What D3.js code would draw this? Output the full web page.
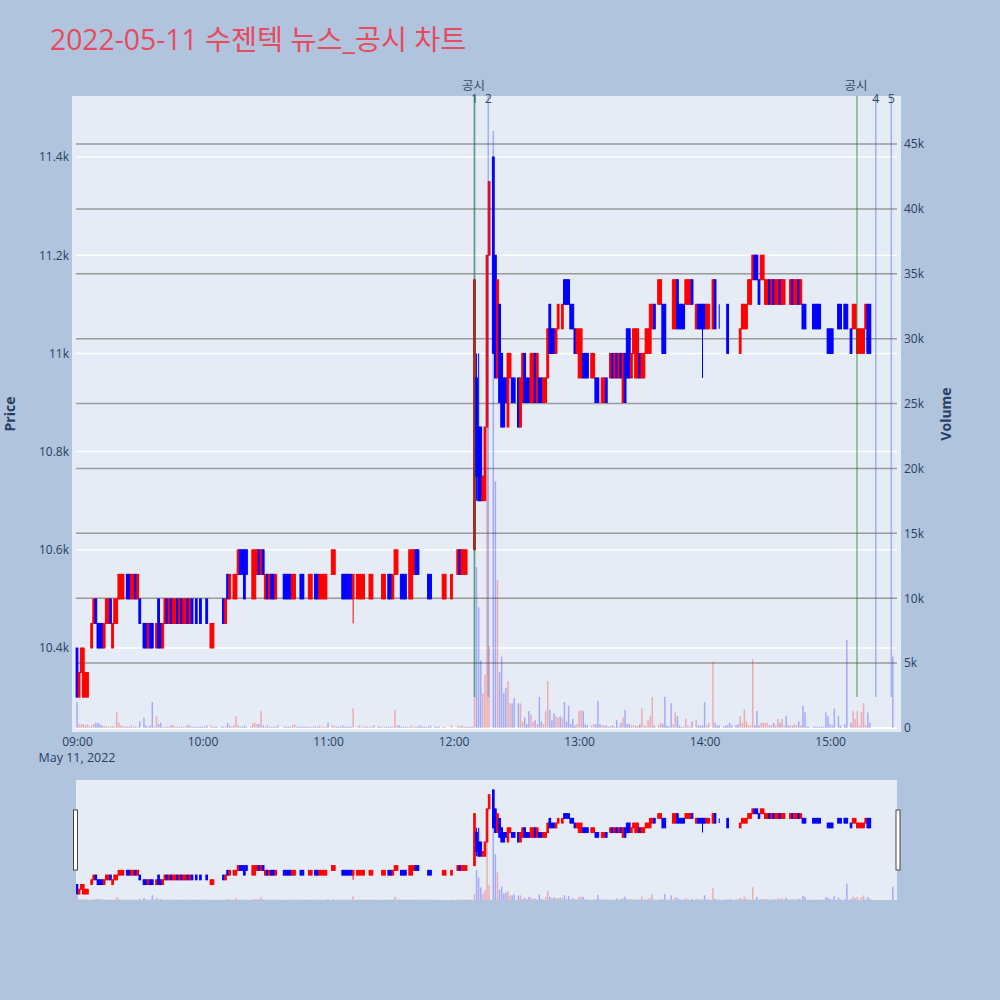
<!DOCTYPE html>
<html><head><meta charset="utf-8">
<script src="https://cdn.jsdelivr.net/npm/d3@7"></script>
<style>body{margin:0;background:#B0C4DE;} svg{display:block;font-family:"Open Sans","Noto Sans CJK KR",sans-serif;}</style>
</head><body><svg id="c" width="1000" height="1000"></svg>
<script>
const _ = null;
const chartTitle = "2022-05-11 수젠텍 뉴스_공시 차트";
// one entry per minute starting 09:00 (null = no trade)
const opens = [
10400,10300,10350,10300,10300,10300,10350,10400,10450,10500,
10450,10450,10450,10400,10450,10450,10500,10400,10450,10450,
10500,10500,10500,10450,10550,10550,10500,10500,10550,10500,
10500,_,10450,10450,10400,10450,10450,10350,10400,10500,
10450,10400,10450,10500,10450,10500,10450,10450,10500,10450,
10500,10450,10450,10500,10450,10500,10450,10500,10450,10500,
10450,10500,10500,_,10400,10400,10450,10450,_,10450,
10500,10450,10550,10500,10550,10500,10500,10550,10600,10600,
10600,10600,_,10550,10500,10500,10550,10600,10550,10600,
10500,10550,10500,10550,10550,10500,10550,_,_,10550,
10550,10550,10550,10500,10500,10500,10500,10550,10550,10500,
10500,10500,10500,10550,10550,10550,10500,10500,10500,10500,
10550,_,10550,10550,10550,10550,10550,10550,10550,10550,
10550,10550,10500,_,10500,10500,10500,10500,10500,10500,
10500,10500,10500,_,10500,10500,10500,10500,10500,10550,
10550,10500,10550,10550,10550,10550,10550,10550,10500,10500,
10500,10550,10600,10600,10500,10500,10500,10500,10550,10550,
_,10500,10500,10500,_,10500,10500,_,_,10500,
_,_,10550,10600,10550,10550,10550,10550,10550,10550,
10600,10950,10850,10850,10700,10700,10850,11200,_,11400,
11200,10950,11100,11000,10950,10950,10850,10950,10950,10950,
_,10950,10850,10900,11000,10950,10950,10900,10900,11000,
10900,10950,10950,10900,10900,10950,11100,11050,11050,11000,
11050,11100,11050,11150,11150,11150,11100,11100,11050,11000,
10950,10950,11000,11000,11000,_,10950,10950,10950,10950,
10900,10900,10900,10950,10950,10950,11000,10950,11000,10950,
11000,10900,11000,11050,11050,10950,11000,10950,10950,11000,
10950,10950,11000,11000,11000,11050,11100,_,11100,11100,
11100,11100,11000,11000,11000,11050,11050,11150,11100,11100,
11100,11100,11100,11100,11150,_,11050,11100,11100,11100,
11100,11050,11050,_,11050,11150,11050,11050,_,11050,
11050,11100,11000,11000,_,11050,11050,11000,11050,11050,
11050,11100,11100,11150,11200,11200,11150,11150,11150,11100,
11100,11150,11100,11150,11100,11100,11150,11100,11100,11100,
11100,11100,11150,11100,11100,11150,11100,11100,11100,11050,
11050,_,11100,11100,11100,11100,11100,11050,11050,11050,
11050,11050,11050,_,11100,11100,_,11100,11100,_,
11050,11050,11050,11000,11000,11000,11000,11050,11100,11100,
_,_,_,_,_,_,_,_,_,_,
11050];
const closes = [
10300,10350,10400,10400,10350,10350,10350,10450,10500,10450,
10400,10400,10400,10450,10500,10500,10450,10450,10500,10500,
10550,10550,10550,10450,10500,10500,10550,10550,10500,10550,
10450,_,10400,10400,10450,10400,10400,10350,10450,10400,
10400,10450,10500,10450,10500,10450,10500,10500,10450,10500,
10450,10500,10500,10450,10500,10450,10450,10450,10450,10450,
10450,10500,10450,_,10450,10450,10450,10450,_,10450,
10450,10500,10500,10550,10550,10550,10550,10600,10550,10550,
10500,10550,_,10550,10600,10600,10600,10550,10600,10550,
10550,10500,10550,10500,10500,10550,10550,_,_,10500,
10500,10500,10500,10550,10550,10500,10500,10500,10500,10500,
10500,10550,10550,10550,10500,10500,10550,10550,10550,10550,
10550,_,10600,10600,10550,10550,10550,10500,10500,10500,
10500,10500,10550,_,10550,10550,10550,10550,10500,10500,
10550,10550,10500,_,10500,10500,10550,10550,10500,10500,
10500,10550,10600,10600,10550,10500,10500,10500,10500,10600,
10600,10600,10550,10550,10500,10500,10500,10500,10500,10500,
_,10500,10500,10500,_,10550,10550,_,_,10550,
_,_,10600,10550,10600,10600,10600,10550,10550,10550,
11150,10750,10700,10700,10750,10850,11200,11350,_,11000,
10950,11150,10900,10850,10850,10900,11000,11000,10900,10900,
_,10850,10950,11000,10900,10900,10900,11000,11000,10900,
11000,10900,10900,10950,10950,11050,11000,11000,11000,11050,
11100,11100,11100,11100,11100,11100,11050,11050,11000,11050,
11050,11050,10950,10950,10950,_,11000,11000,10900,10900,
10900,10950,10950,10900,10950,11000,10950,11000,10950,11000,
10950,11000,10900,10950,10950,11000,11050,11050,11050,10950,
11000,11000,11050,11050,11100,11100,11050,_,11150,11150,
11000,11000,11000,11000,11000,11150,11150,11050,11050,11050,
11050,11150,11150,11150,11100,_,11100,11050,11050,11050,
11050,11100,11100,_,11150,11050,11050,11050,_,11050,
11050,11000,11000,11000,_,11050,11050,11050,11100,11100,
11100,11150,11150,11200,11150,11150,11100,11200,11200,11150,
11150,11100,11150,11100,11150,11150,11100,11150,11150,11100,
11100,11150,11100,11150,11150,11100,11150,11050,11050,11050,
11050,_,11050,11050,11050,11050,11100,11050,11050,11000,
11000,11000,11050,_,11050,11050,_,11050,11050,_,
11000,11100,11100,11050,11050,11050,11050,11100,11000,11000,
_,_,_,_,_,_,_,_,_,_,
11050];
const volumes = [
2000,300,300,300,200,300,100,200,300,400,
400,300,200,150,150,100,100,150,100,1200,
400,200,150,100,100,100,200,100,100,100,
500,_,800,200,100,200,2000,100,900,300,
400,100,100,100,100,200,200,100,100,100,
100,100,100,200,200,100,100,100,100,100,
100,100,200,_,200,100,100,100,_,100,
100,100,400,200,100,200,900,200,100,100,
200,100,_,100,400,400,300,300,1300,200,
100,200,100,100,100,100,200,_,_,100,
100,100,100,200,300,100,100,100,100,100,
100,100,100,100,100,100,200,100,100,100,
400,_,200,200,100,100,100,200,100,100,
100,100,1500,_,100,200,100,100,100,100,
100,100,200,_,100,100,100,100,100,100,
100,100,1400,200,200,100,100,100,100,100,
200,100,100,100,200,100,100,100,100,200,
_,100,100,100,_,100,100,_,_,200,
_,_,200,100,200,100,100,100,100,100,
2400,12400,9300,5200,2700,4100,28000,6300,_,46000,
19000,11400,4300,5500,2700,3100,3600,1900,1900,2300,
_,1900,1900,500,800,300,1300,1000,500,600,
300,2400,500,300,1300,3600,1400,600,1100,900,
800,900,800,2000,500,1700,300,700,200,300,
1300,1400,1300,300,200,_,200,300,300,2100,
300,200,200,200,100,150,200,100,600,100,
400,800,1400,300,300,200,200,200,150,300,
1500,200,150,600,900,2400,200,_,200,400,
300,2400,200,100,1900,300,1200,900,200,100,
100,700,200,100,500,_,600,200,200,200,
2000,200,400,_,5100,400,200,200,_,100,
200,200,400,200,_,200,300,900,400,1400,
500,200,200,5300,200,1300,200,400,400,400,
400,200,200,400,200,700,400,700,200,900,
200,200,200,300,200,500,200,1700,1200,100,
100,_,100,100,100,100,100,100,1200,900,
300,200,1500,_,900,200,_,300,6800,_,
400,1300,700,1300,200,1200,1900,200,1200,400,
_,_,_,_,_,_,_,_,_,_,
5500];
// wick extremes beyond the body: [minute, price]
const wickHighs = [[191,11000],[192,11000],[307,11100]];
const wickLows = [[132,10450],[191,10700],[299,10950]];
// announcement markers
const disclosureTimes = ["12:10:00","15:12:50"];
const newsTimes = ["12:10:00","12:16:35","15:21:50","15:29:15"];
const newsLabels = ["1","2","4","5"];
const priceTicks = [10400,10600,10800,11000,11200,11400];
const volumeTicks = [5000,10000,15000,20000,25000,30000,35000,40000,45000];
const hourTicks = ["09:00","10:00","11:00","12:00","13:00","14:00","15:00"];

const svg = d3.select("#c");
const t0 = new Date(2022,4,11,9,0,0);
const tm = m => new Date(t0.getTime() + m*60000);
const parseT = s => { const [h,mi,se] = s.split(":").map(Number); return new Date(2022,4,11,h,mi,se||0); };

const data = [];
const byMin = {};
opens.forEach((o,m) => {
  if (o == null) return;
  const c = closes[m];
  const d = {m, t: tm(m), o, c, h: Math.max(o,c), l: Math.min(o,c), v: volumes[m] || 0};
  data.push(d); byMin[m] = d;
});
wickHighs.forEach(([m,p]) => { byMin[m].h = Math.max(byMin[m].h, p); });
wickLows.forEach(([m,p]) => { byMin[m].l = Math.min(byMin[m].l, p); });
const up = d => d.c > d.o;
const UPC = "#FF0000", DNC = "#0000FF";
const INK = "#2a3f5f";

const PL = 72, PR = 901, PT = 96, PB = 732, IL = 76, IR = 897;
const x = d3.scaleTime().domain([tm(-0.478), tm(391.97)]).range([IL, IR]);
const y = d3.scaleLinear().domain([10400, 11400]).range([648, 157]);
const yv = d3.scaleLinear().domain([0, 45000]).range([728, 144]);

// title
svg.append("text").attr("x",50).attr("y",50).attr("fill","#E84A5F").attr("font-size",28.3).text(chartTitle);

// plot bg
svg.append("rect").attr("x",PL).attr("y",PT).attr("width",PR-PL).attr("height",PB-PT).attr("fill","#E5ECF6");
svg.append("clipPath").attr("id","clipMain").append("rect").attr("x",PL).attr("y",PT).attr("width",PR-PL).attr("height",PB-PT);

// grids
const grid = svg.append("g");
priceTicks.forEach(p => grid.append("line").attr("x1",IL).attr("x2",IR).attr("y1",y(p)).attr("y2",y(p)).attr("stroke","#fff").attr("stroke-width",1.5));
volumeTicks.forEach(v => grid.append("line").attr("x1",IL).attr("x2",IR).attr("y1",yv(v)).attr("y2",yv(v)).attr("stroke","#9a9a9a").attr("stroke-width",1.5));
grid.append("line").attr("x1",IL).attr("x2",IR).attr("y1",yv(0)).attr("y2",yv(0)).attr("stroke","#fff").attr("stroke-width",2);

function drawCandles(g, xs, ys, bw) {
  g.selectAll("line.w").data(data).join("line").attr("class","w")
    .attr("x1",d=>xs(d.t)).attr("x2",d=>xs(d.t)).attr("y1",d=>ys(d.h)).attr("y2",d=>ys(d.l))
    .attr("stroke",d=>up(d)?UPC:DNC).attr("stroke-width",1);
  g.selectAll("rect.b").data(data).join("rect").attr("class","b")
    .attr("x",d=>xs(d.t)-bw/2).attr("width",bw)
    .attr("y",d=>ys(Math.max(d.o,d.c))).attr("height",d=>Math.max(0, ys(Math.min(d.o,d.c))-ys(Math.max(d.o,d.c))))
    .attr("fill",d=>up(d)?UPC:DNC).attr("stroke",d=>up(d)?UPC:DNC).attr("stroke-width",1);
}
function drawVolume(g, xs, ys, bw) {
  g.selectAll("rect.v").data(data.filter(d=>d.v>0)).join("rect").attr("class","v")
    .attr("x",d=>xs(d.t)-bw/2).attr("width",bw)
    .attr("y",d=>ys(d.v)).attr("height",d=>ys(0)-ys(d.v))
    .attr("fill",d=>up(d)?UPC:DNC).attr("opacity",0.28);
}

const main = svg.append("g").attr("clip-path","url(#clipMain)");
drawCandles(main.append("g"), x, y, 1.8);
drawVolume(main.append("g"), x, yv, 1.5);

// announcement lines
const lines = svg.append("g").attr("clip-path","url(#clipMain)");
newsTimes.forEach(s => lines.append("line").attr("x1",x(parseT(s))).attr("x2",x(parseT(s))).attr("y1",PT).attr("y2",y(10300)).attr("stroke","rgba(40,80,230,0.35)").attr("stroke-width",1.6));
disclosureTimes.forEach(s => lines.append("line").attr("x1",x(parseT(s))).attr("x2",x(parseT(s))).attr("y1",PT).attr("y2",y(10300)).attr("stroke","rgba(0,128,0,0.45)").attr("stroke-width",1.6));
disclosureTimes.forEach(s => svg.append("text").attr("x",x(parseT(s))-1).attr("y",90).attr("text-anchor","middle").attr("font-size",12.5).attr("fill","#3b4a5e").text("공시"));
newsTimes.forEach((s,i) => svg.append("text").attr("x",x(parseT(s))).attr("y",102.5).attr("text-anchor","middle").attr("font-size",12.5).attr("fill","#3b4a5e").text(newsLabels[i]));

// axes
const fmtK = d3.format("~s");
const axL = svg.append("g").attr("transform",`translate(${PL},0)`).call(d3.axisLeft(y).tickValues(priceTicks).tickSize(0).tickPadding(3).tickFormat(fmtK));
const axR = svg.append("g").attr("transform",`translate(${PR},0)`).call(d3.axisRight(yv).tickValues([0].concat(volumeTicks)).tickSize(0).tickPadding(3).tickFormat(fmtK));
const axB = svg.append("g").attr("transform",`translate(0,${PB})`).call(d3.axisBottom(x).tickValues(hourTicks.map(parseT)).tickSize(0).tickPadding(5).tickFormat(d3.timeFormat("%H:%M")));
[axL,axR,axB].forEach(a => { a.select(".domain").remove(); a.selectAll("text").attr("fill",INK).attr("font-size",12).attr("font-family",'"Open Sans",sans-serif'); });
svg.append("text").attr("x",x(parseT("09:00"))).attr("y",762).attr("text-anchor","middle").attr("font-size",12.5).attr("fill",INK).text("May 11, 2022");
svg.append("text").attr("transform","translate(15,414) rotate(-90)").attr("text-anchor","middle").attr("font-size",14).attr("font-weight","bold").attr("fill",INK).text("Price");
svg.append("text").attr("transform","translate(951,414) rotate(-90)").attr("text-anchor","middle").attr("font-size",14).attr("font-weight","bold").attr("fill",INK).text("Volume");

// range slider
const ST = 780, SB = 900;
svg.append("rect").attr("x",IL).attr("y",ST).attr("width",IR-IL).attr("height",SB-ST).attr("fill","#E5ECF6");
svg.append("clipPath").attr("id","clipS").append("rect").attr("x",IL).attr("y",ST).attr("width",IR-IL).attr("height",SB-ST);
const ys = d3.scaleLinear().domain([10300, 11400]).range([894, 790]);
const yvs = d3.scaleLinear().domain([0, 46000]).range([SB, 789]);
const sl = svg.append("g").attr("clip-path","url(#clipS)");
drawCandles(sl.append("g"), x, ys, 1.6);
drawVolume(sl.append("g"), x, yvs, 1.5);
[[73.5],[896]].forEach(([hx]) => svg.append("rect").attr("x",hx).attr("y",810).attr("width",4).attr("height",60).attr("fill","#fff").attr("stroke","#444").attr("stroke-width",1));
</script></body></html>
